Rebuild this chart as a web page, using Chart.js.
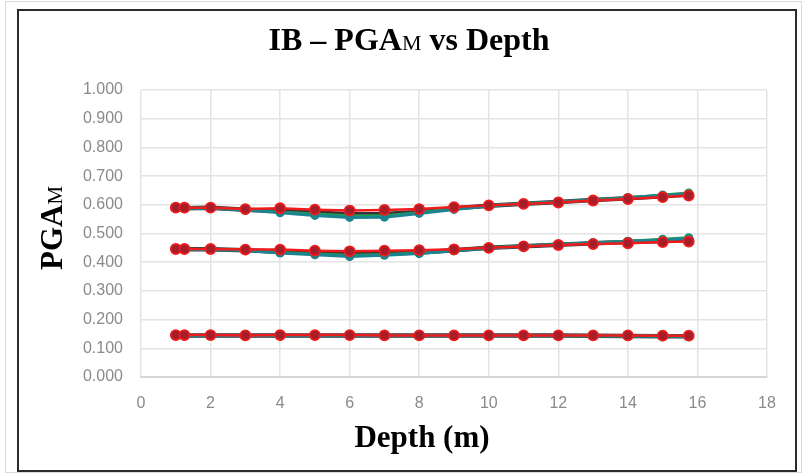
<!DOCTYPE html>
<html>
<head>
<meta charset="utf-8">
<script src="https://cdn.jsdelivr.net/npm/chart.js@4/dist/chart.umd.min.js"></script>
<style>
  html, body { margin: 0; padding: 0; background: #fff; }
  #wrap { width: 803px; height: 474px; position: relative; }
</style>
</head>
<body>
<div id="wrap"><canvas id="c" width="803" height="474"></canvas></div>
<script>
// Depth of each measurement (m)
const depth = [1, 1.25, 2, 3, 4, 5, 6, 7, 8, 9, 10, 11, 12, 13, 14, 15, 15.75];

// PGA_M profiles, three input levels, four runs each
const highDark  = [0.590,0.588,0.590,0.583,0.578,0.573,0.567,0.568,0.575,0.588,0.597,0.604,0.610,0.617,0.623,0.630,0.636];
const highTeal  = [0.588,0.588,0.588,0.582,0.572,0.563,0.556,0.557,0.570,0.584,0.596,0.604,0.609,0.617,0.624,0.632,0.638];
const highGreen = [0.589,0.589,0.589,0.583,0.575,0.568,0.562,0.562,0.573,0.586,0.597,0.605,0.610,0.618,0.625,0.634,0.641];
const highRed   = [0.590,0.590,0.590,0.585,0.588,0.583,0.580,0.582,0.585,0.592,0.598,0.603,0.608,0.615,0.620,0.627,0.632];

const midDark   = [0.445,0.445,0.445,0.442,0.436,0.432,0.428,0.430,0.434,0.442,0.450,0.456,0.461,0.466,0.470,0.474,0.478];
const midTeal   = [0.444,0.444,0.444,0.441,0.432,0.426,0.420,0.424,0.430,0.440,0.449,0.456,0.462,0.467,0.472,0.477,0.482];
const midGreen  = [0.445,0.445,0.445,0.442,0.434,0.429,0.424,0.427,0.432,0.441,0.450,0.457,0.462,0.468,0.473,0.480,0.485];
const midRed    = [0.446,0.446,0.446,0.444,0.444,0.440,0.438,0.440,0.442,0.445,0.450,0.455,0.460,0.463,0.466,0.470,0.472];

const lowDark   = [0.145,0.145,0.145,0.145,0.145,0.145,0.145,0.145,0.145,0.145,0.145,0.145,0.145,0.144,0.143,0.142,0.142];
const lowTeal   = [0.144,0.144,0.144,0.144,0.144,0.144,0.144,0.144,0.144,0.144,0.144,0.144,0.144,0.143,0.143,0.142,0.142];
const lowGreen  = [0.145,0.145,0.145,0.145,0.145,0.145,0.145,0.145,0.145,0.145,0.145,0.145,0.144,0.144,0.143,0.143,0.142];
const lowRed    = [0.146,0.146,0.146,0.145,0.146,0.146,0.146,0.145,0.145,0.145,0.145,0.145,0.145,0.145,0.145,0.144,0.144];

// Axis ticks
const xTicks = [0, 2, 4, 6, 8, 10, 12, 14, 16, 18];
const yTicks = [0, 0.1, 0.2, 0.3, 0.4, 0.5, 0.6, 0.7, 0.8, 0.9, 1.0];

const COLORS = { dark: '#3b2f3a', teal: '#1a8490', green: '#1f9a55', red: '#f01c1c' };

function series(label, values, style) {
  return {
    label,
    data: values.map((v, i) => ({ x: depth[i], y: v })),
    borderColor: style.line,
    backgroundColor: style.line,
    pointBackgroundColor: style.fill,
    pointBorderColor: style.ring,
    pointBorderWidth: style.ringWidth,
    pointRadius: style.radius,
    borderWidth: style.width,
    tension: 0,
    order: style.order
  };
}

const STYLE = {
  dark:  { line: COLORS.dark,  fill: COLORS.dark,  ring: COLORS.dark,  ringWidth: 0,   radius: 5,   width: 4.5, order: 3 },
  teal:  { line: COLORS.teal,  fill: COLORS.teal,  ring: COLORS.teal,  ringWidth: 0,   radius: 4.5, width: 3,   order: 1 },
  green: { line: COLORS.green, fill: COLORS.green, ring: COLORS.green, ringWidth: 0,   radius: 4.5, width: 3,   order: 2 },
  red:   { line: COLORS.red,   fill: '#a51e2a',    ring: COLORS.red,   ringWidth: 1.8, radius: 5,   width: 2.5, order: 0 }
};

const datasets = [
  series('High – run 1', highDark, STYLE.dark),
  series('High – run 2', highTeal, STYLE.teal),
  series('High – run 3', highGreen, STYLE.green),
  series('High – run 4', highRed, STYLE.red),
  series('Mid – run 1', midDark, STYLE.dark),
  series('Mid – run 2', midTeal, STYLE.teal),
  series('Mid – run 3', midGreen, STYLE.green),
  series('Mid – run 4', midRed, STYLE.red),
  series('Low – run 1', lowDark, STYLE.dark),
  series('Low – run 2', lowTeal, STYLE.teal),
  series('Low – run 3', lowGreen, STYLE.green),
  series('Low – run 4', lowRed, STYLE.red)
];

// Draws a run of text pieces with differing fonts on one baseline, centred on x
function drawRuns(ctx, runs, x, y) {
  let total = 0;
  runs.forEach(r => { ctx.font = r.font; total += ctx.measureText(r.text).width; });
  let cx = x - total / 2;
  runs.forEach(r => {
    ctx.font = r.font;
    ctx.fillText(r.text, cx, y);
    cx += ctx.measureText(r.text).width;
  });
}

const SERIF = '"Liberation Serif", "Times New Roman", serif';

const framePlugin = {
  id: 'frameAndTitles',
  beforeDraw(chart) {
    const ctx = chart.ctx;
    ctx.save();
    ctx.fillStyle = '#ffffff';
    ctx.fillRect(0, 0, chart.width, chart.height);
    ctx.strokeStyle = '#dcdcdc';
    ctx.lineWidth = 1;
    ctx.strokeRect(5.5, 1.5, 796, 471);
    ctx.strokeStyle = '#2b2b2b';
    ctx.lineWidth = 2;
    ctx.strokeRect(18, 10, 778, 461);
    ctx.restore();
  },
  afterDraw(chart) {
    const ctx = chart.ctx;
    ctx.save();
    ctx.fillStyle = '#000000';
    ctx.textBaseline = 'alphabetic';
    ctx.textAlign = 'left';
    drawRuns(ctx, [
      { text: 'IB – PGA', font: 'bold 32px ' + SERIF },
      { text: 'M', font: '22px ' + SERIF },
      { text: ' vs Depth', font: 'bold 32px ' + SERIF }
    ], 409, 50);

    drawRuns(ctx, [
      { text: 'Depth (m)', font: 'bold 31px ' + SERIF }
    ], 422, 447);

    ctx.translate(62, 228);
    ctx.rotate(-Math.PI / 2);
    drawRuns(ctx, [
      { text: 'PGA', font: 'bold 31px ' + SERIF },
      { text: 'M', font: '21px ' + SERIF }
    ], 0, 0);
    ctx.restore();
  }
};

const tickFont = { family: '"Liberation Sans", Arial, sans-serif', size: 16 };

new Chart(document.getElementById('c'), {
  type: 'line',
  data: { datasets },
  plugins: [framePlugin],
  options: {
    responsive: false,
    animation: false,
    devicePixelRatio: 1,
    layout: { padding: { left: 0, top: 90, right: 36, bottom: 57 } },
    plugins: { legend: { display: false }, tooltip: { enabled: false }, title: { display: false } },
    scales: {
      x: {
        type: 'linear',
        min: xTicks[0],
        max: xTicks[xTicks.length - 1],
        afterBuildTicks: s => { s.ticks = xTicks.map(v => ({ value: v })); },
        afterFit: s => { s.height = 40; },
        ticks: { color: '#8a8a8a', font: tickFont, padding: 17, maxRotation: 0 },
        grid: { color: '#e4e4e4', lineWidth: 1.5, drawTicks: false },
        border: { color: '#d6d6d6', width: 2 }
      },
      y: {
        type: 'linear',
        min: yTicks[0],
        max: yTicks[yTicks.length - 1],
        afterBuildTicks: s => { s.ticks = yTicks.map(v => ({ value: v })); },
        afterFit: s => { s.width = 141; },
        ticks: { color: '#8a8a8a', font: tickFont, padding: 18, callback: v => Number(v).toFixed(3) },
        grid: { color: '#e4e4e4', lineWidth: 1.5, drawTicks: false },
        border: { display: false }
      }
    }
  }
});
</script>
</body>
</html>
